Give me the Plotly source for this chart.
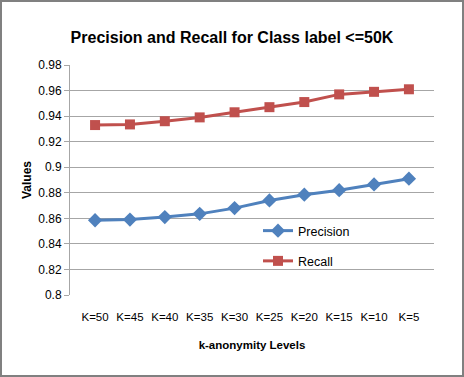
import plotly.graph_objects as go

categories = ["K=50", "K=45", "K=40", "K=35", "K=30", "K=25", "K=20", "K=15", "K=10", "K=5"]
precision = [0.8585, 0.859, 0.861, 0.8635, 0.868, 0.874, 0.8785, 0.882, 0.8865, 0.891]
recall = [0.933, 0.9335, 0.936, 0.939, 0.943, 0.947, 0.951, 0.957, 0.959, 0.961]
y_ticks = [0.8, 0.82, 0.84, 0.86, 0.88, 0.9, 0.92, 0.94, 0.96, 0.98]
y_tick_text = ["0.8", "0.82", "0.84", "0.86", "0.88", "0.9", "0.92", "0.94", "0.96", "0.98"]

W, H = 464, 377
L, R, T, B = 70, 30, 65, 82
pw, ph = W - L - R, H - T - B

font = "Liberation Sans, Arial, sans-serif"

fig = go.Figure()
fig.add_trace(go.Scatter(
    x=categories, y=precision, name="Precision", mode="lines+markers",
    legendgroup="p",
    line=dict(color="#4F81BD", width=3),
    marker=dict(symbol="diamond", size=11, color="#4F81BD"),
))
fig.add_trace(go.Scatter(
    x=categories, y=recall, name="Recall", mode="lines+markers",
    legendgroup="r",
    line=dict(color="#C0504D", width=3),
    marker=dict(symbol="square", size=10, color="#C0504D"),
))

fig.update_layout(
    width=W, height=H,
    margin=dict(l=L, r=R, t=T, b=B),
    paper_bgcolor="white", plot_bgcolor="white",
    title=dict(text="<b>Precision and Recall for Class label <=50K</b>",
               x=0.5, xanchor="center", y=1 - 37 / H, yanchor="middle",
               font=dict(family=font, size=16, color="black")),
    showlegend=True,
    legend=dict(x=(258 - L) / pw, y=(295 - 216) / ph, xanchor="left", yanchor="top",
                bgcolor="rgba(0,0,0,0)", font=dict(family=font, size=12.5, color="black"),
                tracegroupgap=11, itemwidth=30),
    xaxis=dict(
        type="category", tickmode="array", tickvals=categories, ticktext=categories,
        showgrid=False, showline=False, ticks="", zeroline=False,
        ticklabelstandoff=13,
        tickfont=dict(family=font, size=11.5, color="black"),
        title=dict(text="<b>k-anonymity Levels</b>", standoff=19,
                   font=dict(family=font, size=11.5, color="black")),
    ),
    yaxis=dict(
        range=[0.8, 0.98], tickmode="array", tickvals=y_ticks, ticktext=y_tick_text,
        showgrid=True, gridcolor="#A6A6A6", gridwidth=1,
        showline=True, linecolor="#A6A6A6", linewidth=1,
        ticks="outside", ticklen=5, tickcolor="#A6A6A6", zeroline=False,
        tickfont=dict(family=font, size=12, color="black"),
        title=dict(text="<b>Values</b>", standoff=4,
                   font=dict(family=font, size=12, color="black")),
    ),
    shapes=[dict(type="rect", xref="paper", yref="paper",
                 x0=-(L - 1) / pw, x1=1 + (R - 1) / pw,
                 y0=-(B - 1) / ph, y1=1 + (T - 1) / ph,
                 line=dict(color="#808080", width=2), fillcolor="rgba(0,0,0,0)",
                 layer="below")],
)

fig.write_html("out.html", config={"displayModeBar": False},
               post_script="document.body.style.margin='0';")
